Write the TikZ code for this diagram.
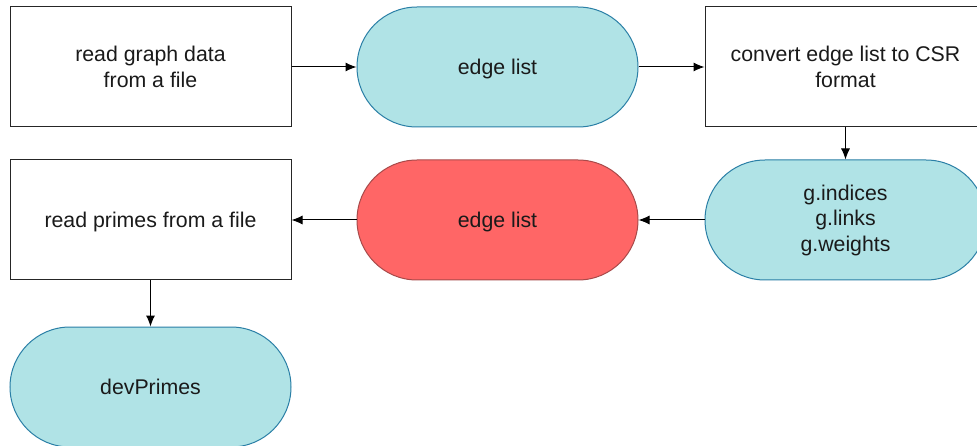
\documentclass[tikz,border=0pt]{standalone}
\usepackage{fontspec}
\setmainfont{Liberation Sans}
\usetikzlibrary{arrows.meta}
\definecolor{cyanfill}{HTML}{B0E3E6}
\definecolor{cyanline}{HTML}{2A7FA6}
\definecolor{redfill}{HTML}{FF6666}
\definecolor{redline}{HTML}{A84A4A}
\definecolor{txt}{HTML}{1A1A1A}
\tikzset{
  every node/.style={font=\fontsize{21.3}{25.5}\selectfont, text=txt, align=center, inner sep=0pt},
  procbox/.style={draw=black!85, line width=1pt, fill=white, minimum width=281pt, minimum height=120pt},
  datastore/.style={draw=cyanline, line width=1pt, fill=cyanfill, rounded corners=60pt, minimum width=281pt, minimum height=120pt},
  redstore/.style={datastore, draw=redline, fill=redfill},
  oneline/.style={text depth=0pt},
  flow/.style={draw=black, line width=1pt, -{Latex[length=11pt,width=9pt]}}
}
\begin{document}
\begin{tikzpicture}[x=1pt,y=-1pt]
  \useasboundingbox (0,0) rectangle (977,446);
  \clip (0,0) rectangle (977,446);
  \fill[white] (0,0) rectangle (977,446);
  % top row
  \node[procbox]   (readgraph) at (150.5,67)  {read graph data\\from a file};
  \node[datastore, oneline] (edges) at (497.5,67) {edge list};
  \node[procbox]   (convert)   at (845.5,67)  {convert edge list to CSR\\format};
  % middle row
  \node[datastore] (csr)       at (845.5,220) {g.indices\\g.links\\g.weights};
  \node[redstore, oneline]  (edgesred)  at (497.5,220) {edge list};
  \node[procbox, oneline]   (readprimes) at (150.5,220) {read primes from a file};
  % bottom row
  \node[datastore, oneline] (primes) at (150.5,387) {devPrimes};
  % connectors
  \draw[flow] (readgraph) -- (edges);
  \draw[flow] (edges) -- (convert);
  \draw[flow] (convert) -- (csr);
  \draw[flow] (csr) -- (edgesred);
  \draw[flow] (edgesred) -- (readprimes);
  \draw[flow] (readprimes) -- (primes);
\end{tikzpicture}
\end{document}
